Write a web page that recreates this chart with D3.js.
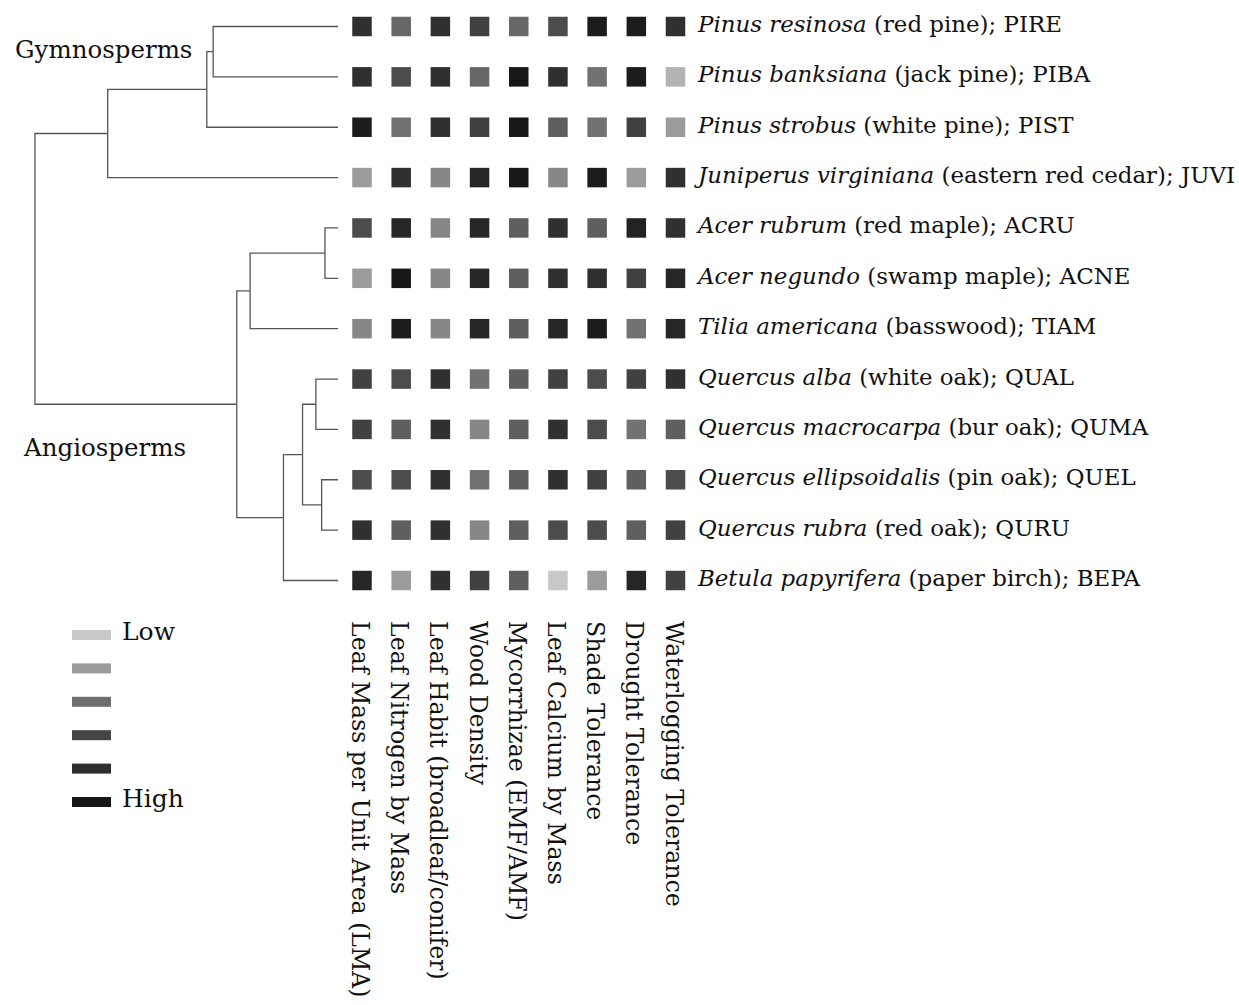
<!DOCTYPE html>
<html>
<head>
<meta charset="utf-8">
<script src="https://cdn.jsdelivr.net/npm/d3@7"></script>
<style>
  body { margin: 0; background: #fff; }
  text { font-family: "DejaVu Serif", serif; fill: #111; }
</style>
</head>
<body>
<script>
var width = 1239, height = 1005;

// species, top to bottom
var codes = ["PIRE", "PIBA", "PIST", "JUVI", "ACRU", "ACNE", "TIAM", "QUAL", "QUMA", "QUEL", "QURU", "BEPA"];
var sciNames = ["Pinus resinosa", "Pinus banksiana", "Pinus strobus", "Juniperus virginiana",
    "Acer rubrum", "Acer negundo", "Tilia americana", "Quercus alba", "Quercus macrocarpa",
    "Quercus ellipsoidalis", "Quercus rubra", "Betula papyrifera"];
var commonNames = ["red pine", "jack pine", "white pine", "eastern red cedar", "red maple",
    "swamp maple", "basswood", "white oak", "bur oak", "pin oak", "red oak", "paper birch"];

var traits = ["Leaf Mass per Unit Area (LMA)", "Leaf Nitrogen by Mass", "Leaf Habit (broadleaf/conifer)",
    "Wood Density", "Mycorrhizae (EMF/AMF)", "Leaf Calcium by Mass", "Shade Tolerance",
    "Drought Tolerance", "Waterlogging Tolerance"];

// relative trait score, 0 = low, 100 = high (one row per species, one column per trait)
var scores = [
    [84, 55, 84, 75, 55, 69, 94, 94, 84],
    [84, 69, 84, 55, 97, 84, 49, 94, 15],
    [94, 49, 84, 75, 97, 59, 49, 75, 28],
    [28, 84, 38, 89, 97, 38, 94, 28, 84],
    [69, 89, 38, 89, 59, 84, 59, 91, 84],
    [28, 97, 38, 89, 59, 84, 84, 75, 89],
    [38, 94, 38, 89, 59, 89, 94, 49, 89],
    [75, 69, 84, 49, 59, 75, 69, 75, 84],
    [75, 59, 84, 38, 59, 84, 69, 49, 59],
    [69, 69, 84, 49, 59, 84, 75, 59, 69],
    [84, 59, 84, 38, 59, 69, 69, 59, 75],
    [89, 28, 84, 75, 59, 4, 28, 89, 75]
];

var legendScores = [4, 28, 51, 72, 85, 97];
var legendLabels = ["Low", "", "", "", "", "High"];

// phylogeny: h = node position on the tree axis (root 0, tips 100)
var tree = {h: 0, children: [
    {h: 24, children: [
        {h: 56.7, children: [
            {h: 58.8, children: [{code: "PIRE"}, {code: "PIBA"}]},
            {code: "PIST"}]},
        {code: "JUVI"}]},
    {h: 66.6, children: [
        {h: 71, children: [
            {h: 95.7, children: [{code: "ACRU"}, {code: "ACNE"}]},
            {code: "TIAM"}]},
        {h: 82, children: [
            {h: 88.3, children: [
                {h: 92.7, children: [{code: "QUAL"}, {code: "QUMA"}]},
                {h: 94.6, children: [{code: "QUEL"}, {code: "QURU"}]}]},
            {code: "BEPA"}]}]}
]};

var svg = d3.select("body").append("svg")
    .attr("width", width)
    .attr("height", height);

var yScale = d3.scalePoint().domain(codes).range([26.5, 580.5]);
var xScale = d3.scalePoint().domain(traits).range([362, 675.5]);
var xTree = d3.scaleLinear().domain([0, 100]).range([35, 338]);
var color = d3.scaleLinear().domain([0, 100]).range(["#d0d0d0", "#111111"]);
var cell = 19.5;

// tree
var root = d3.hierarchy(tree);
root.eachAfter(function(d) {
    if (!d.children) {
        d.x = xTree(100);
        d.y = yScale(d.data.code);
    } else {
        d.x = xTree(d.data.h);
        d.y = (d.children[0].y + d.children[d.children.length - 1].y) / 2;
    }
});

svg.append("g")
    .selectAll("path")
    .data(root.links())
    .enter()
    .append("path")
    .attr("d", function(l) {
        return "M" + l.source.x + "," + l.source.y + "V" + l.target.y + "H" + l.target.x;
    })
    .style("fill", "none")
    .style("stroke", "#555")
    .style("stroke-width", 1.3);

svg.append("text").attr("x", 15).attr("y", 58).style("font-size", "24.5px").text("Gymnosperms");
svg.append("text").attr("x", 24).attr("y", 456).style("font-size", "24.5px").text("Angiosperms");

// heat cells
var cells = [];
scores.forEach(function(row, i) {
    row.forEach(function(v, j) {
        cells.push({code: codes[i], trait: traits[j], v: v});
    });
});

svg.append("g")
    .selectAll("rect")
    .data(cells)
    .enter()
    .append("rect")
    .attr("x", function(d) { return xScale(d.trait) - cell / 2; })
    .attr("y", function(d) { return yScale(d.code) - cell / 2; })
    .attr("width", cell)
    .attr("height", cell)
    .style("fill", function(d) { return color(d.v); });

// species labels
var lab = svg.append("g")
    .selectAll("text")
    .data(codes)
    .enter()
    .append("text")
    .attr("x", 698)
    .attr("y", function(d) { return yScale(d) + 5.5; })
    .style("font-size", "22.9px");
lab.append("tspan")
    .style("font-style", "italic")
    .text(function(d, i) { return sciNames[i]; });
lab.append("tspan")
    .text(function(d, i) { return " (" + commonNames[i] + "); " + d; });

// trait labels, rotated
svg.append("g")
    .selectAll("text")
    .data(traits)
    .enter()
    .append("text")
    .attr("transform", function(d) { return "translate(" + xScale(d) + ",621) rotate(90)"; })
    .attr("dy", 10)
    .style("font-size", "23.6px")
    .text(function(d) { return d; });

// legend
var leg = svg.append("g")
    .selectAll("g")
    .data(legendScores)
    .enter()
    .append("g")
    .attr("transform", function(d, i) { return "translate(72," + (635 + i * 33.4) + ")"; });
leg.append("rect")
    .attr("y", -5)
    .attr("width", 39)
    .attr("height", 10)
    .style("fill", function(d) { return color(d); });
leg.append("text")
    .attr("x", 50)
    .attr("y", 5)
    .style("font-size", "25px")
    .text(function(d, i) { return legendLabels[i]; });
</script>
</body>
</html>
